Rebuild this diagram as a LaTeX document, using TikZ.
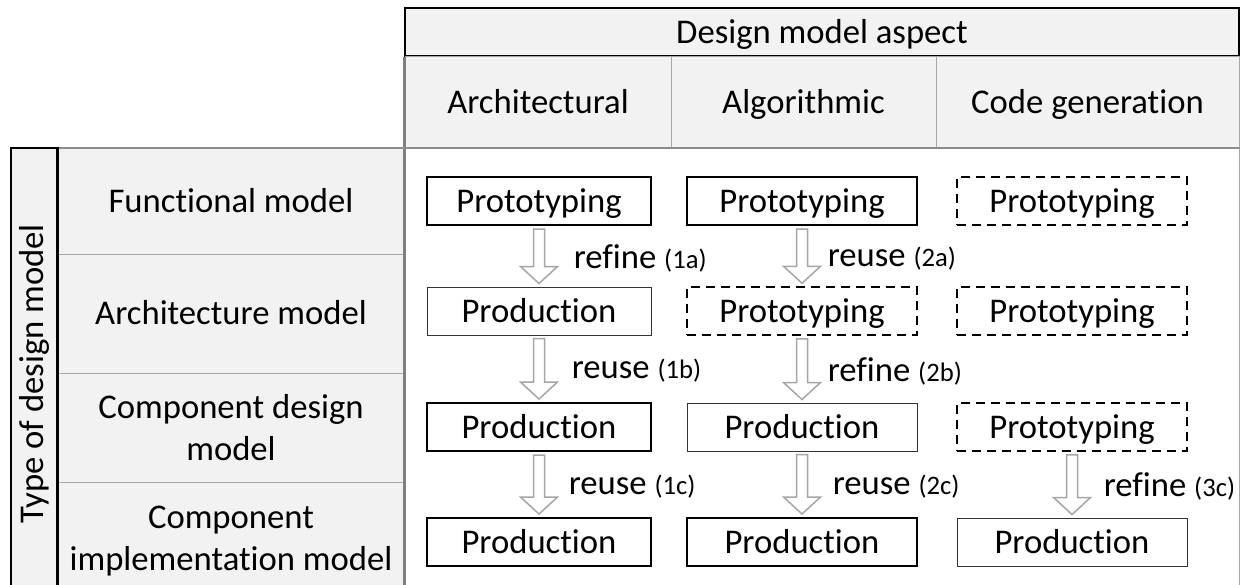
\documentclass[tikz,border=0pt]{standalone}
\usepackage{fontspec}
\setmainfont{Carlito}[Ligatures={NoCommon, NoRequired, NoContextual}]
\usepackage{xcolor}
\usepackage{tikz}
\usetikzlibrary{positioning, calc}
\definecolor{cellgray}{HTML}{F2F2F2}
\definecolor{rulegray}{HTML}{A6A6A6}
\definecolor{edgegray}{HTML}{7F7F7F}
\newcommand{\phase}[1]{{\fontsize{26.67}{30}\selectfont(#1)}}
\tikzstyle{grid.head} = [rectangle, fill=cellgray, draw=rulegray, line width=1pt, inner sep=0pt, font=\fontsize{34.67}{42}\selectfont, align=center]
\tikzstyle{grid.line} = [text height=28, text depth=6]
\tikzstyle{grid.top} = [grid.head, draw=black, line width=1.5pt]
\tikzstyle{plan.box} = [rectangle, fill=white, inner sep=0pt, minimum height=48, text height=28, text depth=6, font=\fontsize{34.67}{42}\selectfont]
\tikzstyle{plan.fixed} = [plan.box, draw=black, line width=2pt]
\tikzstyle{plan.open} = [plan.box, draw=black!80, line width=1pt]
\tikzstyle{plan.draft} = [plan.box, draw=black, line width=1.5pt, dash pattern=on 9pt off 6pt]
\tikzstyle{plan.flow} = [draw=rulegray, line width=1.5pt, fill=white]
\tikzstyle{plan.label} = [anchor=west, inner sep=0pt, font=\fontsize{34.67}{42}\selectfont]
\newcommand{\flowdown}[4]{%
  \draw[plan.flow] let \p1=($(#1.south)+(0,3)$), \p2=($(#2.north)+(0,-3)$) in
    ({\x1-5.5pt},\y1) -- ({\x1-5.5pt},{\y2+17pt}) -- ({\x1-18.5pt},{\y2+17pt})
    -- (\x1,\y2) -- ({\x1+18.5pt},{\y2+17pt}) -- ({\x1+5.5pt},{\y2+17pt})
    -- ({\x1+5.5pt},\y1) -- cycle
    ({\x1+#4},{0.5*\y1+0.5*\y2-2pt}) node[plan.label] {#3};}

\begin{document}
\begin{tikzpicture}[x=1pt, y=-1pt]
\useasboundingbox (0,0) rectangle (1242,584);

% header: design model aspect
\node[grid.top, grid.line, minimum width=834, minimum height=48] (aspect) at (822,32) {Design model aspect};
\node[grid.head, grid.line, minimum width=266, minimum height=92] (arch) at (538,102) {Architectural};
\node[grid.head, grid.line, minimum width=265, minimum height=92] (algo) at (803.5,102) {Algorithmic};
\node[grid.head, grid.line, minimum width=303, minimum height=92] (codegen) at (1087.5,102) {Code generation};

% left side: type of design model
\node[grid.top, minimum width=46, minimum height=452] (kind) at (34,374) {};
\node[rotate=90, font=\fontsize{34.67}{42}\selectfont] at (kind.center) {Type of design model};
\node[grid.head, grid.line, minimum width=348, minimum height=106] (functional) at (231,201) {Functional model};
\node[grid.head, grid.line, minimum width=348, minimum height=119] (architecture) at (231,313.5) {Architecture model};
\node[grid.head, minimum width=348, minimum height=109] (compdesign) at (231,427.5) {Component design\\model};
\node[grid.head, minimum width=348, minimum height=118] (compimpl) at (231,541) {Component\\implementation model};

% body
\node[rectangle, draw=rulegray, line width=1pt, fill=white, minimum width=834, minimum height=452] (body) at (822,374) {};
\draw[edgegray, line width=3pt] (aspect.south west) -- (aspect.south west |- body.south);
\draw[rulegray!85!black, line width=2pt] (functional.north west -| kind.east) -- (body.north east);
\draw[black, line width=1.5pt] (kind.north west) rectangle (kind.south east);

% process boxes
\node[plan.fixed, minimum width=224] (p1a) at (539,201) {Prototyping};
\node[plan.fixed, minimum width=230] (p2a) at (802,201) {Prototyping};
\node[plan.draft, minimum width=230] (p3a) at (1072,201) {Prototyping};

\node[plan.open, minimum width=224] (p1b) at (539,311) {Production};
\node[plan.draft, minimum width=230] (p2b) at (802,311) {Prototyping};
\node[plan.draft, minimum width=230] (p3b) at (1072,311) {Prototyping};

\node[plan.fixed, minimum width=224] (p1c) at (539,427) {Production};
\node[plan.open, minimum width=230] (p2c) at (802,427) {Production};
\node[plan.draft, minimum width=230] (p3c) at (1072,427) {Prototyping};

\node[plan.fixed, minimum width=224] (p1d) at (539,542) {Production};
\node[plan.fixed, minimum width=230] (p2d) at (802,542) {Production};
\node[plan.open, minimum width=230] (p3d) at (1072,542) {Production};

% transitions
\flowdown{p1a}{p1b}{refine \phase{1a}}{34pt}
\flowdown{p2a}{p2b}{reuse \phase{2a}}{25pt}
\flowdown{p1b}{p1c}{reuse \phase{1b}}{32pt}
\flowdown{p2b}{p2c}{refine \phase{2b}}{25pt}
\flowdown{p1c}{p1d}{reuse \phase{1c}}{29pt}
\flowdown{p2c}{p2d}{reuse \phase{2c}}{30pt}
\flowdown{p3c}{p3d}{refine \phase{3c}}{31pt}
\end{tikzpicture}
\end{document}
